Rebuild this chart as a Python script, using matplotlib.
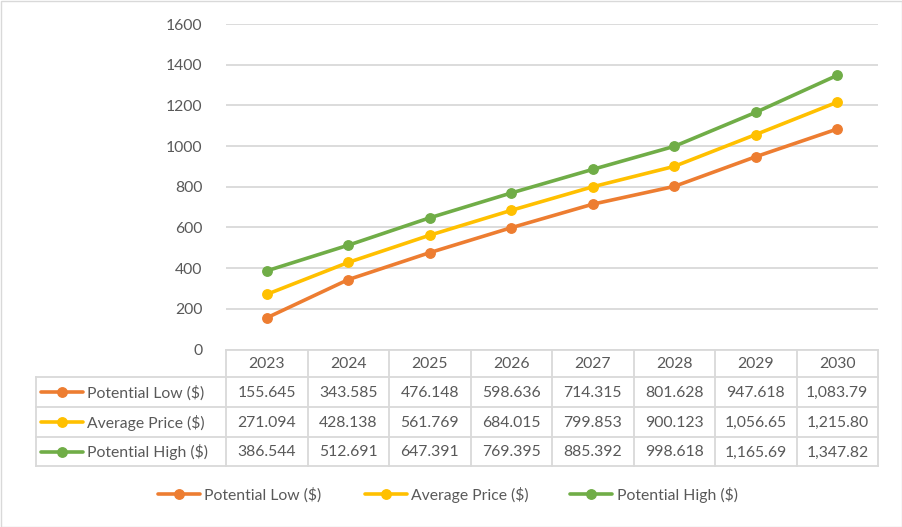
import matplotlib
matplotlib.use("Agg")
import matplotlib.pyplot as plt
from matplotlib.lines import Line2D
from matplotlib.patches import Rectangle

years = ["2023", "2024", "2025", "2026", "2027", "2028", "2029", "2030"]
series_names = ["Potential Low ($)", "Average Price ($)", "Potential High ($)"]
low = [155.645, 343.585, 476.148, 598.636, 714.315, 801.628, 947.618, 1083.79]
avg = [271.094, 428.138, 561.769, 684.015, 799.853, 900.123, 1056.65, 1215.80]
high = [386.544, 512.691, 647.391, 769.395, 885.392, 998.618, 1165.69, 1347.82]
low_labels = ["155.645", "343.585", "476.148", "598.636", "714.315", "801.628", "947.618", "1,083.79"]
avg_labels = ["271.094", "428.138", "561.769", "684.015", "799.853", "900.123", "1,056.65", "1,215.80"]
high_labels = ["386.544", "512.691", "647.391", "769.395", "885.392", "998.618", "1,165.69", "1,347.82"]
yticks = [0, 200, 400, 600, 800, 1000, 1200, 1400, 1600]

colors = ["#ED7D31", "#FFC000", "#70AD47"]
txt = "#595959"
grid = "#D9D9D9"
plt.rcParams['font.family'] = ['Lato', 'DejaVu Sans']
FS = 11.3

W, H = 902, 527
fig = plt.figure(figsize=(W / 100, H / 100), dpi=100)

def fx(px):
    return px / W

def fy(py):
    return 1 - py / H

# figure border
fig.patches.append(Rectangle((fx(0.5), fy(526.5)), fx(901), 1 - 1 / H, transform=fig.transFigure,
                             fill=False, edgecolor=grid, linewidth=1.0))

x0, x1 = 226, 878
ytop, ybot = 24, 349.5
ax = fig.add_axes([fx(x0), fy(ybot), fx(x1 - x0), (ybot - ytop) / H])
ax.set_xlim(-0.5, len(years) - 0.5)
ax.set_ylim(0, 1600)
ax.set_yticks(yticks)
ax.set_yticklabels([str(v) for v in yticks])
ax.set_xticks([])
ax.tick_params(axis='y', length=0, pad=17, labelsize=FS, labelcolor=txt)
for s in ax.spines.values():
    s.set_visible(False)
ax.grid(axis='y', color=grid, linewidth=1.3)
ax.set_axisbelow(True)

xs = list(range(len(years)))
for vals, c in zip([low, avg, high], colors):
    ax.plot(xs, vals, color=c, linewidth=2.6, marker='o', markersize=6.8,
            solid_capstyle='round', zorder=3)

# data table
row_tops = [349.5, 377, 407, 437, 466]
col_edges = [x0 + i * (x1 - x0) / len(years) for i in range(len(years) + 1)]
left_hdr = 36
lk = dict(color=grid, linewidth=1.3, transform=fig.transFigure)
fig.add_artist(Line2D([fx(x0), fx(x1)], [fy(row_tops[0])] * 2, **lk))
for yy in row_tops[1:]:
    fig.add_artist(Line2D([fx(left_hdr), fx(x1)], [fy(yy)] * 2, **lk))
fig.add_artist(Line2D([fx(left_hdr)] * 2, [fy(row_tops[1]), fy(row_tops[-1])], **lk))
for xx in col_edges:
    fig.add_artist(Line2D([fx(xx)] * 2, [fy(row_tops[0]), fy(row_tops[-1])], **lk))

for i, yr in enumerate(years):
    cx = (col_edges[i] + col_edges[i + 1]) / 2
    cy = (row_tops[0] + row_tops[1]) / 2 + 1
    fig.text(fx(cx), fy(cy), yr, ha='center', va='center', fontsize=FS, color=txt)

for r, (name, labels, c) in enumerate(zip(series_names, [low_labels, avg_labels, high_labels], colors)):
    cy = (row_tops[r + 1] + row_tops[r + 2]) / 2 + 1
    fig.add_artist(Line2D([fx(41), fx(83)], [fy(cy - 1)] * 2, color=c, linewidth=2.6,
                          transform=fig.transFigure, solid_capstyle='round'))
    fig.add_artist(Line2D([fx(62)], [fy(cy - 1)], color=c, marker='o', markersize=6.8,
                          transform=fig.transFigure))
    fig.text(fx(87), fy(cy), name, ha='left', va='center', fontsize=FS, color=txt)
    for i, lab in enumerate(labels):
        cx = (col_edges[i] + col_edges[i + 1]) / 2
        fig.text(fx(cx), fy(cy), lab, ha='center', va='center', fontsize=FS, color=txt)

# legend
leg_y = 494
for (lx0, lx1, tx), name, c in zip([(158, 200, 204), (365, 407, 411), (570, 612, 617)], series_names, colors):
    fig.add_artist(Line2D([fx(lx0), fx(lx1)], [fy(leg_y)] * 2, color=c, linewidth=2.6,
                          transform=fig.transFigure, solid_capstyle='round'))
    fig.add_artist(Line2D([fx((lx0 + lx1) / 2)], [fy(leg_y)], color=c, marker='o', markersize=6.8,
                          transform=fig.transFigure))
    fig.text(fx(tx), fy(leg_y + 1), name, ha='left', va='center', fontsize=FS, color=txt)

fig.savefig("out.png", dpi=100)
